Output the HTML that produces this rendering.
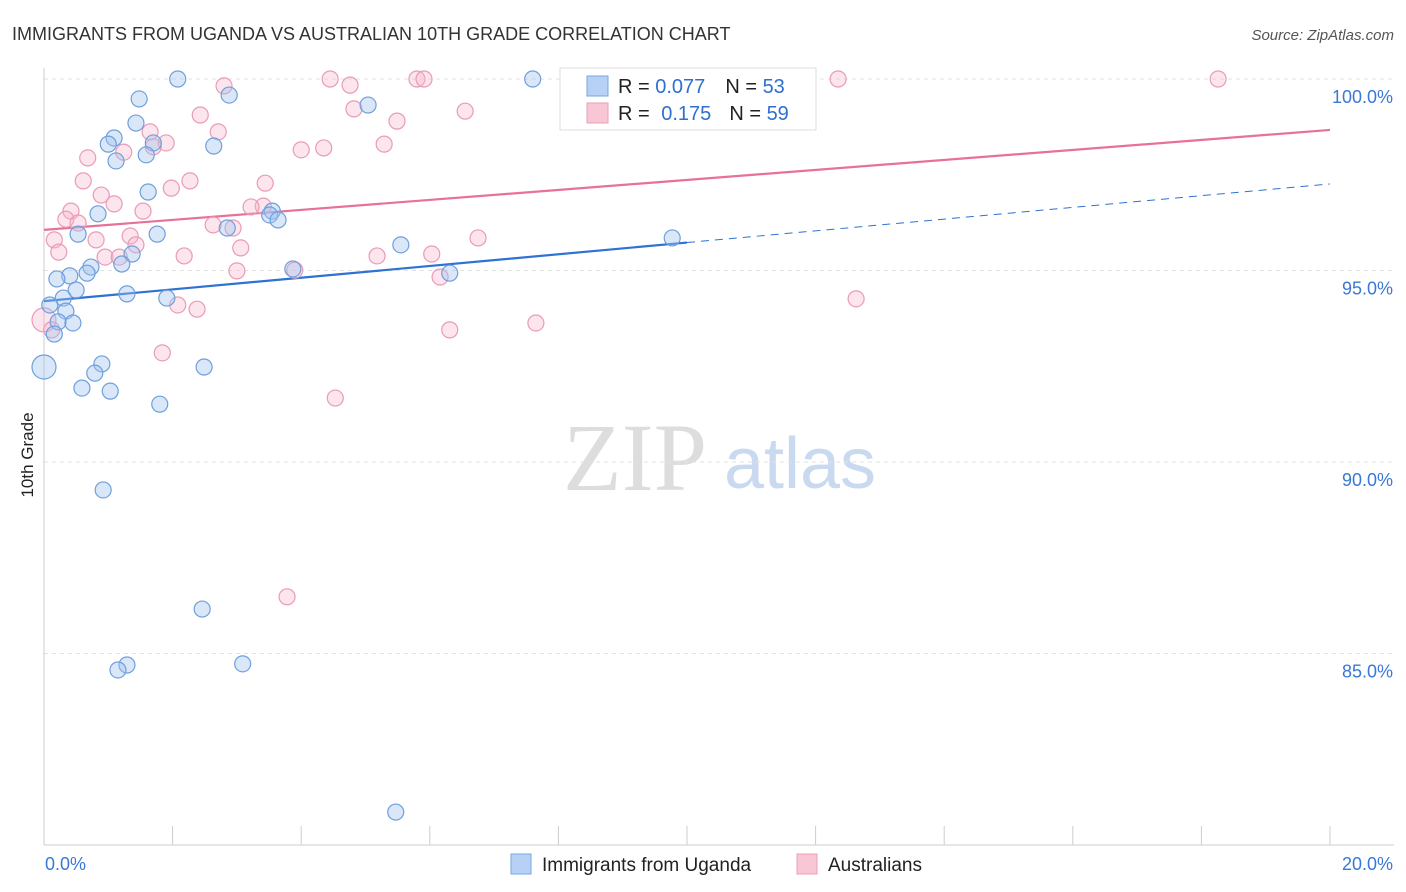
<!DOCTYPE html>
<html><head><meta charset="utf-8"><style>
body{margin:0;background:#fff;font-family:"Liberation Sans",sans-serif;}
svg{display:block}
</style></head><body>
<svg id="chart" width="1406" height="892">
<text x="12" y="40" font-size="18" fill="#333">IMMIGRANTS FROM UGANDA VS AUSTRALIAN 10TH GRADE CORRELATION CHART</text>
<text x="1394" y="40" font-size="15" fill="#555" font-style="italic" text-anchor="end">Source: ZipAtlas.com</text>
<text x="33" y="455" font-size="17" fill="#222" text-anchor="middle" transform="rotate(-90 33 455)">10th Grade</text>
<g>
<text x="635" y="490" font-size="96" fill="#ddd" font-family="Liberation Serif,serif" text-anchor="middle">ZIP</text>
<text x="800" y="488" font-size="72" fill="#c9daf0" text-anchor="middle">atlas</text>
</g>
<g id="grid"></g><g id="axes"></g><g id="trends"></g><g id="points"></g>
<g>
<rect x="560" y="68" width="256" height="62" fill="#fff" stroke="#ddd"/>
<rect x="587" y="76" width="21" height="20" fill="#b6d1f5" stroke="#7aa7e0"/>
<rect x="587" y="103" width="21" height="20" fill="#f9c6d5" stroke="#eaa0b8"/>
<text x="618" y="93" font-size="20" fill="#222">R = <tspan fill="#2e6fd0">0.077</tspan><tspan dx="20">N = </tspan><tspan fill="#2e6fd0">53</tspan></text>
<text x="618" y="120" font-size="20" fill="#222">R = <tspan dx="6" fill="#2e6fd0">0.175</tspan><tspan dx="18">N = </tspan><tspan fill="#2e6fd0">59</tspan></text>
</g>
<g>
<rect x="511" y="854" width="20" height="20" fill="#b6d1f5" stroke="#7aa7e0"/>
<text x="542" y="871" font-size="19" fill="#222">Immigrants from Uganda</text>
<rect x="797" y="854" width="20" height="20" fill="#f9c6d5" stroke="#eaa0b8"/>
<text x="828" y="871" font-size="19" fill="#222">Australians</text>
</g>
</svg>
<script>
const yTicks=[100,95,90,85];
const xTickLabels=["0.0%","20.0%"];
const blueX=[2.08,7.60,1.48,2.88,5.04,1.43,1.09,1.00,1.70,2.64,1.59,1.12,1.62,0.84,3.55,3.51,3.64,2.85,1.76,0.53,5.55,9.77,1.37,1.21,0.73,0.67,0.40,0.20,3.87,6.31,0.50,1.29,0.30,1.91,0.09,0.34,0.22,0.45,0.16,0.90,0.79,2.49,0.0,0.59,1.03,1.80,0.92,2.46,1.29,1.15,3.09,5.47];
const blueY=[100,100,99.48,99.58,99.32,98.85,98.46,98.30,98.33,98.25,98.02,97.86,97.05,96.48,96.55,96.45,96.32,96.11,95.95,95.95,95.67,95.85,95.43,95.17,95.09,94.93,94.86,94.78,95.04,94.93,94.49,94.39,94.28,94.28,94.10,93.94,93.66,93.63,93.34,92.56,92.32,92.48,92.48,91.93,91.85,91.51,89.27,86.16,84.70,84.57,84.73,80.86];
const pinkX=[4.45,5.80,5.91,12.35,18.26,2.80,4.76,4.82,6.55,2.43,5.49,1.65,2.71,1.90,1.70,5.29,1.24,4.35,4.00,0.68,0.61,1.98,2.27,3.44,0.89,1.09,1.54,3.41,3.22,0.42,0.34,0.53,2.63,2.94,0.16,0.81,1.34,1.43,3.06,0.23,0.95,1.17,2.18,5.18,6.03,6.75,3.00,3.90,6.16,2.08,2.38,0,0.12,6.31,7.65,1.84,12.63,4.53,3.78];
const pinkY=[100,100,100,100,100,99.82,99.84,99.22,99.16,99.06,98.90,98.62,98.62,98.33,98.23,98.30,98.09,98.20,98.15,97.94,97.34,97.15,97.34,97.28,96.97,96.74,96.55,96.68,96.66,96.55,96.34,96.24,96.19,96.11,95.80,95.80,95.90,95.67,95.59,95.48,95.35,95.35,95.38,95.38,95.43,95.85,94.99,95.01,94.83,94.10,93.99,93.71,93.45,93.45,93.63,92.85,94.26,91.67,86.48];
const blueTrend=[94.20,97.26];
const pinkTrend=[96.06,98.67];
const NS="http://www.w3.org/2000/svg";
const X=v=>44+v*64.3, Y=v=>79+(100-v)*38.3;
function mk(tag,attrs,parent){const e=document.createElementNS(NS,tag);for(const k in attrs)e.setAttribute(k,attrs[k]);document.getElementById(parent).appendChild(e);return e;}
yTicks.forEach(t=>{
 const l=mk('line',{x1:44,x2:1394,y1:Y(t),y2:Y(t),stroke:'#e2e2e2','stroke-dasharray':'4 4'},'grid');
 
 
 const tx=mk('text',{x:1393,y:Y(t)+24,'font-size':18,fill:'#3a78d6','text-anchor':'end'},'grid');
 tx.textContent=t.toFixed(1)+'%';
 
 
});
mk('line',{x1:44,x2:44,y1:68,y2:845,stroke:'#ccc'},'axes');
const xa=mk('line',{x1:44,x2:1394,y1:845,y2:845,stroke:'#ccc'},'axes');


for(let i=0;i<=10;i++){mk('line',{x1:X(i*2),x2:X(i*2),y1:826,y2:845,stroke:'#ccc'},'axes');}
const xl0=mk('text',{x:45,y:870,'font-size':18,fill:'#3a78d6'},'axes');xl0.textContent=xTickLabels[0];


const xl1=mk('text',{x:1393,y:870,'font-size':18,fill:'#3a78d6','text-anchor':'end'},'axes');xl1.textContent=xTickLabels[1];


function pts(xs,ys,fill,stroke,name){xs.forEach((x,i)=>{
 const big=(x===0);
 const c=mk('circle',{cx:X(x),cy:Y(ys[i]),r:big?12:8,fill:fill,stroke:stroke,'stroke-width':1.2},'points');
 
 
});}
pts(pinkX,pinkY,'rgba(246,180,200,0.35)','#e99bb6','australians-point');
pts(blueX,blueY,'rgba(160,195,240,0.4)','#6f9fdc','uganda-point');
const bm=blueTrend[0]+(blueTrend[1]-blueTrend[0])*0.5;
const b1=mk('line',{x1:X(0),y1:Y(blueTrend[0]),x2:X(10),y2:Y(bm),stroke:'#2e72d2','stroke-width':2.2},'trends');


const b2=mk('line',{x1:X(10),y1:Y(bm),x2:X(20),y2:Y(blueTrend[1]),stroke:'#2e72d2','stroke-width':1,'stroke-dasharray':'8 6'},'trends');


const p1=mk('line',{x1:X(0),y1:Y(pinkTrend[0]),x2:X(20),y2:Y(pinkTrend[1]),stroke:'#e8719a','stroke-width':2.2},'trends');


</script>
</body></html>
